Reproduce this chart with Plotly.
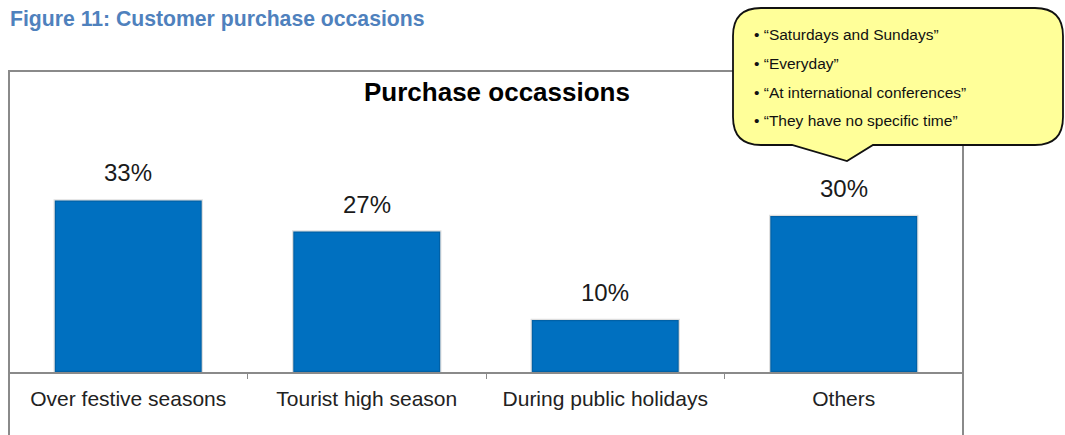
import plotly.graph_objects as go

# Survey results: when customers make purchases
categories = ["Over festive seasons", "Tourist high season", "During public holidays", "Others"]
shares = [33, 27, 10, 30]
value_labels = ["33%", "27%", "10%", "30%"]

# Verbatim answers grouped under "Others"
other_answers = [
    "“Saturdays and Sundays”",
    "“Everyday”",
    "“At international conferences”",
    "“They have no specific time”",
]

W, H = 1065, 435
ML, MR, MT, MB = 9, 102, 112, 63
PW, PH = W - ML - MR, H - MT - MB
FONT = "Liberation Sans, Arial, sans-serif"


def px(x):
    """Horizontal pixel -> paper coordinate."""
    return (x - ML) / PW


def py(y):
    """Vertical pixel -> paper coordinate."""
    return (H - MB - y) / PH


def path(cmds):
    out = []
    for c in cmds:
        if c[0] in ("M", "L"):
            out.append(f"{c[0]}{px(c[1]):.5f},{py(c[2]):.5f}")
        elif c[0] == "Q":
            out.append(f"Q{px(c[1]):.5f},{py(c[2]):.5f} {px(c[3]):.5f},{py(c[4]):.5f}")
        else:
            out.append(c[0])
    return " ".join(out)


fig = go.Figure()
fig.add_trace(go.Bar(
    x=categories,
    y=shares,
    marker=dict(color="#0070C0", line=dict(color="rgba(0,0,0,0.13)", width=2.5)),
    hoverinfo="skip",
))

# value labels above bars
for cat, v, lab in zip(categories, shares, value_labels):
    fig.add_annotation(
        x=cat, y=v, xref="x", yref="y", text=lab, showarrow=False,
        yanchor="bottom", yshift=12,
        font=dict(family=FONT, size=24, color="#1a1a1a"),
    )

# chart-area frame
fig.add_shape(type="rect", xref="paper", yref="paper",
              x0=px(9), x1=px(963), y0=py(470), y1=py(71),
              line=dict(color="#8a8a8a", width=2), fillcolor="rgba(0,0,0,0)")

# speech-bubble callout
l, r, t, b, rad = 733, 1063, 8, 145, 28
bubble = [
    ("M", l + rad, t), ("L", r - rad, t), ("Q", r, t, r, t + rad),
    ("L", r, b - rad), ("Q", r, b, r - rad, b),
    ("L", 873, b), ("L", 847, 161), ("L", 792, b),
    ("L", l + rad, b), ("Q", l, b, l, b - rad),
    ("L", l, t + rad), ("Q", l, t, l + rad, t), ("Z",),
]
fig.add_shape(type="path", xref="paper", yref="paper", path=path(bubble),
              fillcolor="#FFFF99", line=dict(color="#111111", width=1.8))

for i, txt in enumerate(other_answers):
    fig.add_annotation(
        x=px(752), y=py(35 + i * 28.5), xref="paper", yref="paper",
        text="• " + txt, showarrow=False, xanchor="left", yanchor="middle",
        font=dict(family=FONT, size=15.5, color="#111111"),
    )

# titles
fig.add_annotation(
    x=px(8), y=py(19), xref="paper", yref="paper",
    text="<b>Figure 11: Customer purchase occasions</b>", showarrow=False,
    xanchor="left", yanchor="middle",
    font=dict(family=FONT, size=21.2, color="#4F81BD"),
)
fig.add_annotation(
    x=px(497), y=py(92), xref="paper", yref="paper",
    text="<b>Purchase occassions</b>", showarrow=False,
    xanchor="center", yanchor="middle",
    font=dict(family=FONT, size=26, color="#000000"),
)

fig.update_layout(
    width=W, height=H,
    margin=dict(l=ML, r=MR, t=MT, b=MB, pad=0),
    paper_bgcolor="white", plot_bgcolor="white",
    bargap=0.384, showlegend=False,
    xaxis=dict(
        showline=True, linecolor="#8a8a8a", linewidth=1.5,
        ticks="outside", tickson="boundaries", ticklen=5, tickcolor="#8a8a8a",
        ticklabelstandoff=7,
        tickfont=dict(family=FONT, size=21, color="#222222"),
        showgrid=False, fixedrange=True,
    ),
    yaxis=dict(range=[0, 50], visible=False, fixedrange=True),
)

fig.write_html("out.html", config={"displayModeBar": False})
